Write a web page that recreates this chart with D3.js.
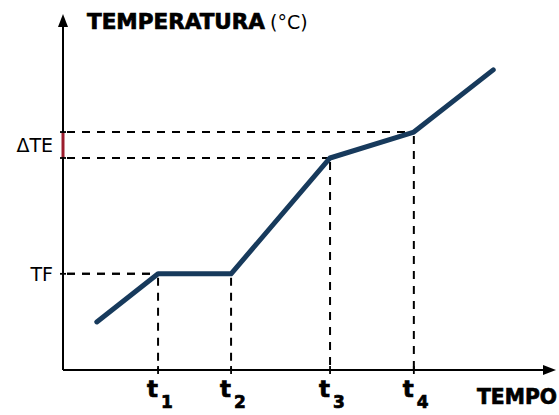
<!doctype html>
<html lang="en">
<head>
  <meta charset="utf-8">
  <title>Temperatura x tempo</title>
  <style>
    body { margin: 0; background: #fff; }
    svg { display: block; }
    text { font-family: 'DejaVu Sans', sans-serif; fill: #000; }
    .heavy { font-weight: bold; stroke: #000; stroke-width: 0.7px; }
  </style>
</head>
<body>
  <script src="https://cdn.jsdelivr.net/npm/d3@7"></script>
  <script>
    // curve points (time, temperature) in arbitrary units
    var times = [6.9, 19.4, 34.3, 54.5, 71.6, 87.8]
    var temps = [13.7, 27.4, 27.4, 60.4, 67.8, 85.5]

    // marked instants on the time axis
    var tTicks = [19.4, 34.3, 54.5, 71.6]
    var tLabels = ['1', '2', '3', '4']
    // which curve point each marked instant refers to
    var tPoint = [1, 2, 3, 4]

    // marked temperatures on the vertical axis
    var yTicks = [27.4, 60.4, 67.8]
    var yLabels = [{ text: 'TF', value: 27.4 }, { text: '\u0394TE', value: (60.4 + 67.8) / 2 }]

    var width = 559
    var height = 415

    var svg = d3.select('body').append('svg')
      .attr('width', width)
      .attr('height', height)

    var x = d3.scaleLinear()
      .domain([0, 100])
      .range([63, 553])

    var y = d3.scaleLinear()
      .domain([0, 100])
      .range([370, 19])

    var x0 = x(0), y0 = y(0)

    // dashed guides
    var guides = svg.append('g')
      .style('stroke', '#000')
      .style('stroke-width', 2)
      .style('stroke-dasharray', '8 7')
      .style('fill', 'none')

    tTicks.forEach(function(t, i) {
      var p = tPoint[i]
      guides.append('line')
        .attr('x1', x0 + 4).attr('x2', x(t))
        .attr('y1', y(temps[p])).attr('y2', y(temps[p]))
      guides.append('line')
        .attr('x1', x(t)).attr('x2', x(t))
        .attr('y1', y(temps[p]) + 4).attr('y2', y0)
    })

    // axes
    svg.append('line')
      .attr('x1', x0).attr('x2', x0)
      .attr('y1', y0).attr('y2', 24)
      .style('stroke', '#000').style('stroke-width', 2)
    svg.append('path')
      .attr('d', 'M' + x0 + ',14 L' + (x0 - 5) + ',27 L' + (x0 + 5) + ',27 Z')
      .style('fill', '#000')

    svg.append('line')
      .attr('x1', x0).attr('x2', 546)
      .attr('y1', y0).attr('y2', y0)
      .style('stroke', '#000').style('stroke-width', 2)
    svg.append('path')
      .attr('d', 'M556,' + y0 + ' L543,' + (y0 - 5) + ' L543,' + (y0 + 5) + ' Z')
      .style('fill', '#000')

    // delta TE bracket on the y axis
    svg.append('line')
      .attr('x1', x0).attr('x2', x0)
      .attr('y1', y(yTicks[1])).attr('y2', y(yTicks[2]))
      .style('stroke', '#9b1c2c').style('stroke-width', 3)

    // tick marks
    svg.selectAll('.ytick')
      .data(yTicks)
      .enter().append('line')
      .attr('class', 'ytick')
      .attr('x1', x0 - 3).attr('x2', x0 + 3)
      .attr('y1', function(d) { return y(d) })
      .attr('y2', function(d) { return y(d) })
      .style('stroke', '#000').style('stroke-width', 1.8)

    svg.selectAll('.xtick')
      .data(tTicks)
      .enter().append('line')
      .attr('class', 'xtick')
      .attr('x1', function(d) { return x(d) })
      .attr('x2', function(d) { return x(d) })
      .attr('y1', y0 - 4).attr('y2', y0 + 4)
      .style('stroke', '#000').style('stroke-width', 1.8)

    // the curve
    var line = d3.line()
      .x(function(d, i) { return x(times[i]) })
      .y(function(d) { return y(d) })

    svg.append('path')
      .datum(temps)
      .attr('d', line)
      .style('fill', 'none')
      .style('stroke', '#173a5c')
      .style('stroke-width', 5)
      .style('stroke-linejoin', 'round')
      .style('stroke-linecap', 'round')

    // y labels
    svg.selectAll('.ylabel')
      .data(yLabels)
      .enter().append('text')
      .attr('class', 'ylabel')
      .attr('x', 53)
      .attr('y', function(d) { return y(d.value) + 7 })
      .attr('text-anchor', 'end')
      .style('font-size', '19px')
      .text(function(d) { return d.text })

    // x labels with subscripts
    var xl = svg.selectAll('.xlabel')
      .data(tTicks)
      .enter().append('text')
      .attr('class', 'xlabel heavy')
      .attr('x', function(d) { return x(d) - 11 })
      .attr('y', 397)
      .style('font-size', '23px')
    xl.append('tspan').text('t')
    xl.append('tspan')
      .attr('dy', 11)
      .attr('dx', 3)
      .style('font-size', '17px')
      .text(function(d, i) { return tLabels[i] })

    // axis titles
    var title = svg.append('text')
      .attr('x', 87)
      .attr('y', 29)
    title.append('tspan')
      .attr('class', 'heavy')
      .attr('textLength', 178)
      .attr('lengthAdjust', 'spacingAndGlyphs')
      .style('font-size', '21px')
      .text('TEMPERATURA')
    title.append('tspan')
      .attr('dx', 5)
      .style('font-size', '19px')
      .text('(\u00b0C)')

    svg.append('text')
      .attr('class', 'heavy')
      .attr('x', 477)
      .attr('y', 404)
      .attr('textLength', 80)
      .attr('lengthAdjust', 'spacingAndGlyphs')
      .style('font-size', '21px')
      .text('TEMPO')
  </script>
</body>
</html>
